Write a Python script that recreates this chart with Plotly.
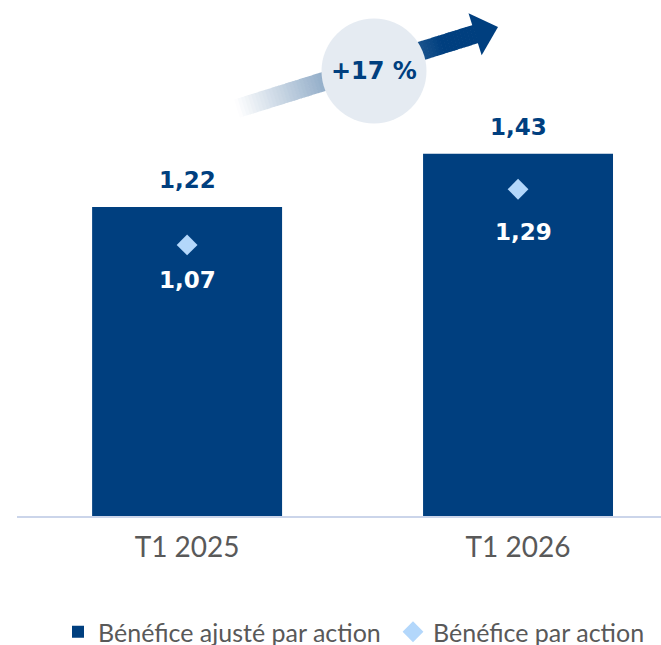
import plotly.graph_objects as go
import numpy as np

categories = ["T1 2025", "T1 2026"]
adjusted_eps = [1.22, 1.43]
reported_eps = [1.07, 1.29]
adjusted_labels = ["1,22", "1,43"]
reported_labels = ["1,07", "1,29"]
growth_label = "+17 %"
series_names = ["Bénéfice ajusté par action", "Bénéfice par action"]

W, H = 661, 645
DARK = "#003f7f"
LIGHT = "#b3d7fb"
FONT = "Lato"
BOLD = "DejaVu Sans"

def px(x, y):
    return x / W, 1 - y / H

fig = go.Figure()
fig.add_trace(go.Bar(
    x=categories, y=adjusted_eps, name=series_names[0],
    marker=dict(color=DARK, line=dict(width=0)), width=0.574,
    hoverinfo="skip", legend="legend",
))
fig.add_trace(go.Scatter(
    x=categories, y=reported_eps, name=series_names[1], mode="markers",
    marker=dict(symbol="diamond", size=16, color=LIGHT, line=dict(width=0)),
    hoverinfo="skip", legend="legend2",
))

annotations = []
for c, v, t in zip(categories, adjusted_eps, adjusted_labels):
    annotations.append(dict(x=c, y=v, xref="x", yref="y", text=t, showarrow=False,
                            yshift=27, yanchor="middle",
                            font=dict(family=BOLD, size=23, color=DARK, weight="bold")))
shifts = [-35, -43]
xsh = [0, 5]
for i, (c, v, t) in enumerate(zip(categories, reported_eps, reported_labels)):
    annotations.append(dict(x=c, y=v, xref="x", yref="y", text=t, showarrow=False,
                            yshift=shifts[i], xshift=xsh[i], yanchor="middle",
                            font=dict(family=BOLD, size=23, color="white", weight="bold")))

# decorative growth arrow with gradient
shapes = []
p0 = np.array([237.0, 108.6])
tip = np.array([498.0, 27.0])
d = tip - p0
L = np.linalg.norm(d)
u = d / L
n = np.array([-u[1], u[0]])
hw = 9.5
head_len = 24.0
shaft_len = L - head_len
N = 70
c0 = np.array([255, 255, 255])
c1 = np.array([0, 63, 127])
grad_end = 215.0
for k in range(N):
    s0 = shaft_len * k / N
    s1 = shaft_len * (k + 1) / N + 0.6
    s1 = min(s1, shaft_len + 1)
    t = min(1.0, (s0 + s1) / 2 / grad_end)
    col = (c0 + (c1 - c0) * t).round().astype(int)
    pts = [p0 + s0 * u + hw * n, p0 + s1 * u + hw * n, p0 + s1 * u - hw * n, p0 + s0 * u - hw * n]
    path = "M " + " L ".join("%.5f,%.5f" % px(*p) for p in pts) + " Z"
    shapes.append(dict(type="path", xref="paper", yref="paper", path=path,
                       fillcolor="rgb(%d,%d,%d)" % tuple(col), line=dict(width=0), layer="below"))
base = p0 + shaft_len * u
hpts = [base + 22 * n, tip, base - 22 * n]
path = "M " + " L ".join("%.5f,%.5f" % px(*p) for p in hpts) + " Z"
shapes.append(dict(type="path", xref="paper", yref="paper", path=path,
                   fillcolor=DARK, line=dict(width=0), layer="below"))
cx, cy, r = 374, 71, 52.5
x0, y0 = px(cx - r, cy - r)
x1, y1 = px(cx + r, cy + r)
shapes.append(dict(type="circle", xref="paper", yref="paper", x0=x0, y0=y1, x1=x1, y1=y0,
                   fillcolor="#e5ebf2", line=dict(width=0), layer="below"))
gx, gy = px(cx, cy)
annotations.append(dict(x=gx, y=gy, xref="paper", yref="paper", text=growth_label, showarrow=False,
                        xanchor="center", yanchor="middle",
                        font=dict(family=BOLD, size=24, color=DARK, weight="bold")))

legend_style = dict(orientation="h", yanchor="middle", y=1 - 632 / H, xanchor="left",
                    font=dict(family=FONT, size=25, color="#595959"), itemclick=False,
                    bgcolor="rgba(0,0,0,0)")
fig.update_layout(
    width=W, height=H,
    margin=dict(l=0, r=0, t=0, b=0, autoexpand=False),
    paper_bgcolor="white", plot_bgcolor="white",
    showlegend=True,
    legend=dict(legend_style, x=58 / W),
    legend2=dict(legend_style, x=393 / W),
    xaxis=dict(domain=[17 / W, 1], range=[-0.514, 1.432], showline=True, linecolor="#cbd5ea",
               linewidth=2, ticks="", showgrid=False, zeroline=False,
               tickfont=dict(family=FONT, size=28, color="#595959"), ticklabelstandoff=5),
    yaxis=dict(domain=[1 - 516 / H, 1], range=[0, 516 / 253.3], visible=False, showgrid=False),
    shapes=shapes, annotations=annotations,
    font=dict(family=FONT),
)
fig.write_html("out.html", post_script="document.body.style.margin='0';",
               config={"displayModeBar": False})
